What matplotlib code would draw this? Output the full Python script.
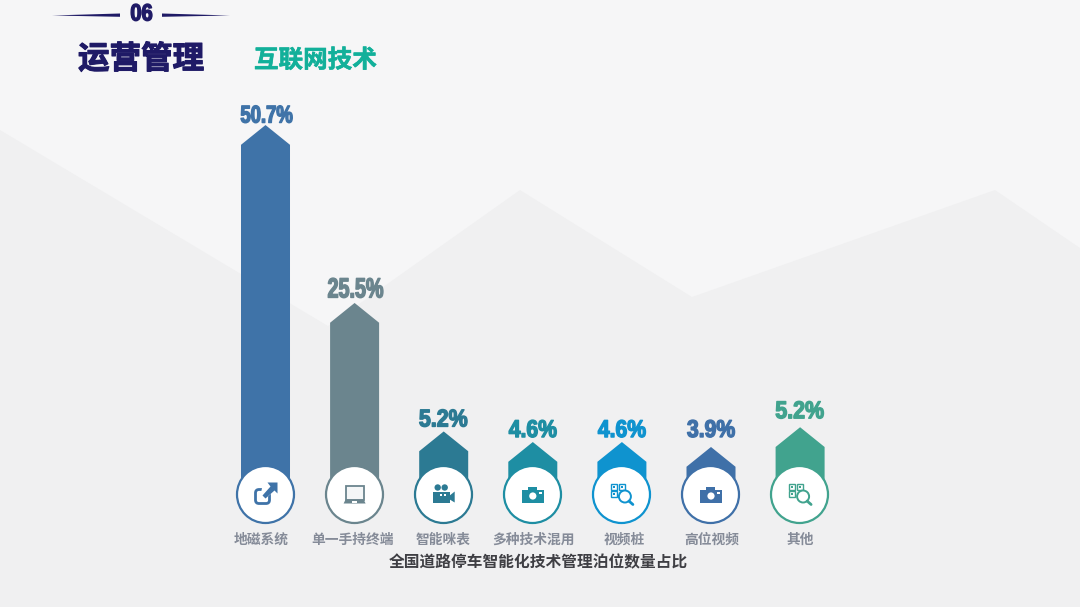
import matplotlib
matplotlib.use("Agg")
import matplotlib.patheffects as pe
import matplotlib.pyplot as plt
from matplotlib.patches import Circle, FancyBboxPatch, Polygon, Rectangle
from matplotlib.transforms import Affine2D

plt.rcParams["font.family"] = ["Noto Sans CJK SC", "DejaVu Sans"]

categories = ["地磁系统", "单一手持终端", "智能咪表", "多种技术混用", "视频桩", "高位视频", "其他"]
share_labels = ["50.7%", "25.5%", "5.2%", "4.6%", "4.6%", "3.9%", "5.2%"]
# the drawn lengths are not proportional to the labels in the original, so read separately
drawn_heights = [50.7, 25.5, 7.3, 5.8, 5.8, 5.1, 7.9]
colors = ["#3f73a8", "#6b858e", "#2c7a93", "#1e8ea3", "#0f93cf", "#3f70a8", "#41a38e"]
icons = ["share", "laptop", "video", "camera", "qr", "camera", "qr"]

# label layout, pixels / points
label_gaps = [9, 12.5, 11.5, 11.5, 11.5, 16.5, 15.5]
label_dx = [1, 1, -0.5, 0, 0, 0, -0.5]
label_sizes = [17.5, 20, 17.5, 17.5, 17.5, 17.5, 17.5]
label_squeeze = [0.76, 0.71, 0.88, 0.87, 0.87, 0.87, 0.88]
cat_dx = [-4.5, -2, -0.5, 1, 2.5, 0.5, 0]

NAVY = "#1f1a66"


class Condense(pe.AbstractPathEffect):
    """Squeeze a text horizontally around its centre (no Impact-like font installed)."""

    def __init__(self, sx, stroke=0.0):
        super().__init__()
        self.sx = sx
        self.stroke = stroke

    def draw_path(self, renderer, gc, tpath, affine, rgbFace=None):
        ext = tpath.transformed(affine).get_extents()
        cx = (ext.x0 + ext.x1) / 2
        squeeze = affine + Affine2D().translate(-cx, 0).scale(self.sx, 1).translate(cx, 0)
        gc0 = renderer.new_gc()
        gc0.copy_properties(gc)
        gc0.set_foreground(rgbFace)
        gc0.set_linewidth(self.stroke)
        renderer.draw_path(gc0, tpath, squeeze, rgbFace)
        gc0.restore()


def px_icon(ax, kind, cx, cy, c):
    # small hand drawn icons, pixel coords, y pointing down
    if kind == "share":
        ax.add_patch(FancyBboxPatch((cx - 10, cy - 5), 14, 14, boxstyle="round,pad=0,rounding_size=3.5",
                                    fc="none", ec=c, lw=2.0, zorder=5))
        ax.add_patch(Polygon([(cx - 3, cy - 9), (cx + 3, cy - 9), (cx + 3, cy - 13), (cx + 12, cy - 13),
                              (cx + 12, cy - 3), (cx + 8, cy - 3), (cx - 1, cy + 5), (cx - 5, cy + 1)],
                             fc="white", ec="none", zorder=6))
        ax.add_patch(Polygon([(cx + 2, cy - 12), (cx + 12, cy - 12), (cx + 12, cy - 1), (cx + 9, cy - 4),
                              (cx, cy + 4), (cx - 3, cy + 1), (cx + 5, cy - 8)], fc=c, ec="none", zorder=7))
    elif kind == "laptop":
        ax.add_patch(Rectangle((cx - 9, cy - 9), 18, 14, fc="#f4f6f7", ec=c, lw=1.3, zorder=5))
        ax.add_patch(Polygon([(cx - 9, cy + 5), (cx + 9, cy + 5), (cx + 11, cy + 9), (cx - 11, cy + 9)],
                             fc=c, ec="none", zorder=5))
        ax.add_patch(Rectangle((cx - 2.5, cy + 6.5), 5, 1.5, fc="white", ec="none", zorder=6))
    elif kind == "video":
        ax.add_patch(Circle((cx - 6, cy - 7), 3.2, fc=c, ec="none", zorder=5))
        ax.add_patch(Circle((cx + 1, cy - 7), 3.2, fc=c, ec="none", zorder=5))
        ax.add_patch(Rectangle((cx - 11, cy - 3), 17, 11, fc=c, ec="none", zorder=5))
        ax.add_patch(Polygon([(cx + 6, cy + 1), (cx + 11, cy - 3), (cx + 11, cy + 8), (cx + 6, cy + 5)],
                             fc=c, ec="none", zorder=5))
        for dx in (-4, 0):
            ax.add_patch(Rectangle((cx + dx, cy - 0.5), 2, 2, fc="white", ec="none", zorder=6))
    elif kind == "camera":
        ax.add_patch(Rectangle((cx - 11, cy - 5), 22, 13, fc=c, ec="none", zorder=5))
        ax.add_patch(Rectangle((cx - 5, cy - 8), 9, 4, fc=c, ec="none", zorder=5))
        ax.add_patch(Circle((cx, cy + 1.5), 3.6, fc="white", ec="none", zorder=6))
        ax.add_patch(Rectangle((cx + 6, cy - 3), 3, 2, fc="white", ec="none", zorder=6))
    elif kind == "qr":
        for dx, dy in [(-11, -11), (-3, -11), (-11, -4)]:
            ax.add_patch(Rectangle((cx + dx, cy + dy), 6, 6, fc="none", ec=c, lw=1.0, zorder=5))
            ax.add_patch(Rectangle((cx + dx + 2, cy + dy + 2), 2, 2, fc=c, ec="none", zorder=5))
        ax.add_patch(Circle((cx + 3, cy + 2), 6, fc="white", ec=c, lw=1.4, zorder=6))
        ax.plot([cx + 7, cx + 11], [cy + 6.5, cy + 10], color=c, lw=2, solid_capstyle="round", zorder=6)


fig = plt.figure(figsize=(10.8, 6.07), dpi=100, facecolor="#f6f6f7")

# background mountains, in pixel coords
bg = fig.add_axes([0, 0, 1, 1], zorder=0)
bg.set_xlim(0, 1080)
bg.set_ylim(607, 0)
bg.axis("off")
bg.add_patch(Polygon([(0, 130), (328, 326), (520, 190), (692, 297), (995, 190), (1080, 248),
                      (1080, 607), (0, 607)], fc="#f0f0f1", ec="none"))

# bars: data axes stretched over the whole figure, 89 px per category, 7.06 px per unit
ax = fig.add_axes([0, 0, 1, 1], zorder=1)
ax.set_xlim(-265.5 / 89.1, (1080 - 265.5) / 89.1)
ax.set_ylim(-124 / 7.06, 483 / 7.06)
ax.axis("off")
half = 0.275
shoulder = 2.8
for i, (h, c) in enumerate(zip(drawn_heights, colors)):
    ax.fill([i - half, i - half, i, i + half, i + half], [0, h - shoulder, h, h - shoulder, 0],
            color=c, lw=0, zorder=2)
    ax.scatter([i - 0.008], [-1.6], s=(57 * 0.72) ** 2, facecolor="white", edgecolor=c, linewidth=1.6, zorder=3)

# everything else on top, pixel coords again
top = fig.add_axes([0, 0, 1, 1], zorder=2)
top.set_xlim(0, 1080)
top.set_ylim(607, 0)
top.axis("off")
top.patch.set_alpha(0)

for i, (cat, lab, h, c, icon) in enumerate(zip(categories, share_labels, drawn_heights, colors, icons)):
    cx = 265.5 + 89.1 * i
    tip = 483 - h * 7.06
    px_icon(top, icon, cx, 494.5, c)
    top.text(cx + cat_dx[i], 539.5, cat, ha="center", va="center", fontsize=9.9, fontweight="bold", color="#858b98")
    top.text(cx + label_dx[i], tip - label_gaps[i], lab, ha="center", va="center", fontsize=label_sizes[i],
             fontweight="bold", color=c, family=["Liberation Sans", "DejaVu Sans"],
             path_effects=[Condense(label_squeeze[i], 1.0)])

top.text(538.5, 562.5, "全国道路停车智能化技术管理泊位数量占比", ha="center", va="center",
         fontsize=11.3, fontweight="bold", color="#3f3f44")

# header
top.add_patch(Polygon([(52, 15.5), (120, 13.5), (120, 16.8)], fc=NAVY, ec="none"))
top.add_patch(Polygon([(162, 13.5), (230, 15.5), (162, 16.8)], fc=NAVY, ec="none"))
top.text(141.5, 14, "06", ha="center", va="center", fontsize=17, fontweight="bold", color=NAVY,
         family=["Liberation Sans", "DejaVu Sans"], path_effects=[Condense(0.85, 1.0)])
top.text(141, 59.5, "运营管理", ha="center", va="center", fontsize=22.7, fontweight="black", color=NAVY,
         path_effects=[pe.withStroke(linewidth=0.8, foreground=NAVY)])
top.text(315.5, 60.5, "互联网技术", ha="center", va="center", fontsize=17.7, fontweight="bold", color="#12b09a",
         path_effects=[pe.withStroke(linewidth=0.4, foreground="#12b09a")])

fig.savefig("out.png", dpi=100, facecolor=fig.get_facecolor())
